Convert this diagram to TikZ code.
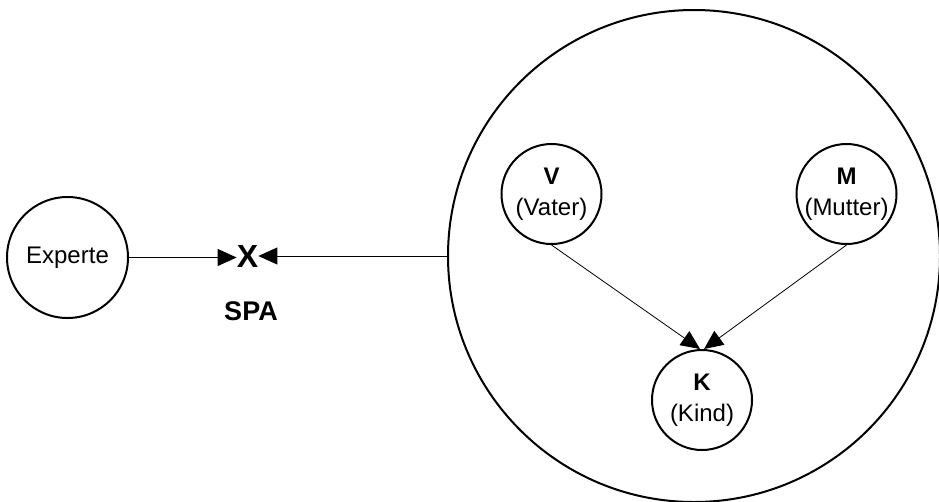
\documentclass[tikz,border=0pt]{standalone}
\usepackage{fontspec}
\setmainfont{Liberation Sans}
\usetikzlibrary{arrows.meta,calc}
\begin{document}
\begin{tikzpicture}[x=1pt,y=-1pt,
  every node/.style={font=\fontsize{24}{31}\selectfont},
  ring/.style={circle,draw,line width=2pt,inner sep=0pt,align=center},
  small/.style={ring,minimum size=100pt},
  link/.style={line width=0.8pt,-{Triangle[length=19pt,width=17pt]}}
]
\useasboundingbox (0,0) rectangle (939,501);
% the network and its three variables
\node[ring,minimum size=492pt] (net) at (694,256) {};
\node[small] (V) at (551.5,194) {\textbf{V}\\(Vater)};
\node[small] (M) at (846.5,194) {\textbf{M}\\(Mutter)};
\node[small] (K) at (702,400) {\textbf{K}\\(Kind)};
% the expert
\node[ring,minimum size=121pt] (expert) at (67.5,257.5) {Experte};
% the meeting point
\node[font=\bfseries\fontsize{32}{32}\selectfont,inner sep=0pt] (X) at (247.5,256) {X};
\node[font=\bfseries\fontsize{27}{27}\selectfont] (spa) at (251,311) {SPA};
% connectors
\draw[link] (expert.east) -- (expert.east -| X.west);
\draw[link] (net.west) -- (net.west -| X.east);
\draw[link] (V.south) -- ([xshift=-2pt]K.north);
\draw[link] (M.south) -- ([xshift=2pt]K.north);
\end{tikzpicture}
\end{document}
